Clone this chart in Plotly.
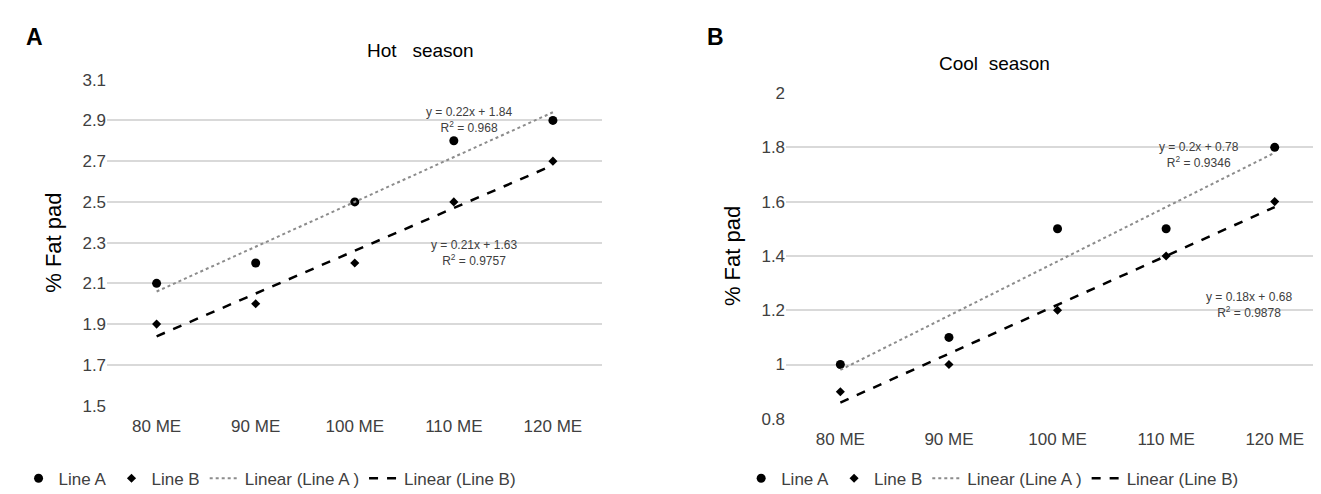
import plotly.graph_objects as go

cats = ["80 ME", "90 ME", "100 ME", "110 ME", "120 ME"]
hot_a = [2.1, 2.2, 2.5, 2.8, 2.9]
hot_b = [1.9, 2.0, 2.2, 2.5, 2.7]
cool_a = [1.0, 1.1, 1.5, 1.5, 1.8]
cool_b = [0.9, 1.0, 1.2, 1.4, 1.6]
# trendline coefficients as printed on the chart (slope, intercept, R2)
hot_fit_a = (0.22, 1.84, "0.968")
hot_fit_b = (0.21, 1.63, "0.9757")
cool_fit_a = (0.2, 0.78, "0.9346")
cool_fit_b = (0.18, 0.68, "0.9878")

FONT = "Liberation Sans Narrow, Liberation Sans, Arial"
fig = go.Figure()


def trend(fit):
    return [fit[0] * (i + 1) + fit[1] for i in range(len(cats))]


def add_panel(a, b, fa, fb, xa, ya, leg):
    idx = list(range(len(cats)))
    fig.add_trace(go.Scatter(x=idx, y=a, mode="markers", name="Line A", xaxis=xa, yaxis=ya, legend=leg,
                             marker=dict(symbol="circle", size=9, color="black")))
    fig.add_trace(go.Scatter(x=idx, y=b, mode="markers", name="Line B", xaxis=xa, yaxis=ya, legend=leg,
                             marker=dict(symbol="diamond", size=7, color="black")))
    fig.add_trace(go.Scatter(x=idx, y=trend(fa), mode="lines", name="Linear (Line A )", xaxis=xa, yaxis=ya,
                             legend=leg, line=dict(color="#8c8c8c", width=2, dash="dot")))
    fig.add_trace(go.Scatter(x=idx, y=trend(fb), mode="lines", name="Linear (Line B)", xaxis=xa, yaxis=ya,
                             legend=leg, line=dict(color="black", width=2.5, dash="dash")))


add_panel(hot_a, hot_b, hot_fit_a, hot_fit_b, "x", "y", "legend")
add_panel(cool_a, cool_b, cool_fit_a, cool_fit_b, "x2", "y2", "legend2")

xcommon = dict(tickmode="array", tickvals=list(range(5)), ticktext=cats, range=[-0.5, 4.5],
               showgrid=False, zeroline=False, showline=False, ticklabelstandoff=8,
               tickfont=dict(family=FONT, size=17, color="#404040"))
ycommon = dict(showgrid=True, gridcolor="#d9d9d9", gridwidth=1.5, zeroline=False, showline=False,
               tickfont=dict(family=FONT, size=17, color="#404040"),
               title=dict(text="% Fat pad", font=dict(family="Liberation Sans, Arial", size=22, color="black")))

ann = []


def eq(fit, x, y, xr, yr):
    ann.append(dict(text=f"y = {fit[0]}x + {fit[1]}<br>R<sup>2</sup> = {fit[2]}", x=x, y=y, xref=xr, yref=yr,
                    showarrow=False, align="center", font=dict(family=FONT, size=12, color="#404040")))


eq(hot_fit_a, 3.15, 2.9, "x", "y")
eq(hot_fit_b, 3.2, 2.25, "x", "y")
eq(cool_fit_a, 3.3, 1.77, "x2", "y2")
eq(cool_fit_b, 3.76, 1.22, "x2", "y2")

ann += [
    dict(text="<b>A</b>", x=0.012, y=0.99, xref="paper", yref="paper", xanchor="left", yanchor="top",
         showarrow=False, font=dict(family="Liberation Sans, Arial", size=23, color="black")),
    dict(text="<b>B</b>", x=0.528, y=0.99, xref="paper", yref="paper", xanchor="left", yanchor="top",
         showarrow=False, font=dict(family="Liberation Sans, Arial", size=23, color="black")),
    dict(text="Hot   season", x=0.27, y=1 - 22 / 494, xref="paper", yref="paper", showarrow=False,
         font=dict(family=FONT, size=19, color="black")),
    dict(text="Cool  season", x=0.79, y=1 - 35 / 494, xref="paper", yref="paper", showarrow=False,
         font=dict(family=FONT, size=19, color="black")),
]

legcommon = dict(orientation="h", yanchor="middle", y=0.028, bgcolor="rgba(0,0,0,0)",
                 font=dict(family=FONT, size=17, color="#404040"), itemwidth=30)

fig.update_layout(
    width=1321, height=494, margin=dict(l=0, r=0, t=0, b=0),
    plot_bgcolor="white", paper_bgcolor="white",
    xaxis=dict(domain=[0.075, 0.45], anchor="y", **xcommon),
    yaxis=dict(domain=[0.182, 0.868], range=[1.5, 3.1], tickvals=[1.5, 1.7, 1.9, 2.1, 2.3, 2.5, 2.7, 2.9, 3.1],
               anchor="x", **ycommon),
    xaxis2=dict(domain=[0.589, 1.0], anchor="y2", **xcommon),
    yaxis2=dict(domain=[0.154, 0.840], range=[0.8, 2.0], tickvals=[0.8, 1, 1.2, 1.4, 1.6, 1.8, 2],
                ticktext=["0.8", "1", "1.2", "1.4", "1.6", "1.8", "2"], anchor="x2", **ycommon),
    legend=dict(x=0.008, xanchor="left", **legcommon),
    legend2=dict(x=0.555, xanchor="left", **legcommon),
    annotations=ann,
)
fig.update_yaxes(title_standoff=14)

fig.write_html("out.html")
